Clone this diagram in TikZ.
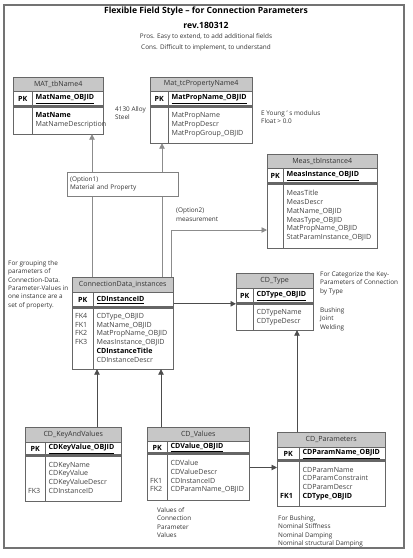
\documentclass[tikz,border=0pt]{standalone}
\usepackage{fontspec}
\setmainfont{Open Sans}
\usepackage{xcolor}
\usetikzlibrary{positioning,arrows.meta}
\newcommand{\tblfont}{\fontsize{7.1}{8.8}\selectfont}
\newcommand{\notefont}{\fontsize{6.4}{8.3}\selectfont}
\newcommand{\keyfld}[1]{{\color{black}\bfseries #1}}

\begin{document}
\begin{tikzpicture}[x=1pt,y=-1pt,
	thead/.style={draw=black!60, fill=black!22, anchor=north west, inner sep=0pt, font=\tblfont, text=black!80},
	tkey/.style={draw=black!60, anchor=north west, inner sep=0pt, font=\tblfont\bfseries, text=black,
		path picture={\draw[black!60] ([yshift=1.6pt]path picture bounding box.south west) -- ([yshift=1.6pt]path picture bounding box.south east);}},
	tcol/.style={draw=black!60, anchor=north west, inner xsep=3pt, inner ysep=0pt, align=left, font=\tblfont, text=black!75,
		execute at begin node=\strut, execute at end node=\strut},
	note/.style={anchor=north west, inner sep=0pt, align=left, font=\notefont, text=black!80},
	fk/.style={draw=black!70, line width=0.9pt, -{Triangle[length=5.5pt,width=5.5pt]}},
	opt/.style={draw=black!45, line width=0.9pt, -{Triangle[length=5.5pt,width=5.5pt]}}]
\useasboundingbox (0,0) rectangle (413,558);
\draw[black!55, line width=1.2pt] (4,5) rectangle (404,548);

\node[font=\fontsize{8.6}{10}\selectfont\bfseries] (ttl) at (206,11.5) {Flexible Field Style -- for Connection Parameters};
\node[font=\fontsize{8.6}{10}\selectfont\bfseries, below=-1pt of ttl] (rev) {rev.180312};
\node[font=\notefont, text=black!80, below=-2pt of rev] (pros) {Pros. Easy to extend, to add additional fields};
\node[font=\notefont, text=black!80, below=-2pt of pros] (cons) {Cons. Difficult to implement, to understand};

\node[thead, minimum width=90pt, minimum height=14pt] (math) at (13,77) {MAT\_tbName4};
\node[tkey, minimum width=19pt, minimum height=15pt] (matp) at (math.south west) {PK};
\node[tkey, minimum height=15pt, inner xsep=3pt, text width=65pt, align=left] (matk) at (matp.north east) {\underline{MatName\_OBJID}};
\node[tcol, minimum height=27pt, text width=13pt] (matl) at (matp.south west) {~\\~};
\node[tcol, minimum height=27pt, text width=65pt] (matb) at (matl.north east) {\keyfld{MatName}\\MatNameDescription};

\node[thead, minimum width=102pt, minimum height=14pt] (mph) at (150,77) {Mat\_tcPropertyName4};
\node[tkey, minimum width=18pt, minimum height=15pt] (mpp) at (mph.south west) {PK};
\node[tkey, minimum height=15pt, inner xsep=3pt, text width=78pt, align=left] (mpk) at (mpp.north east) {\underline{MatPropName\_OBJID}};
\node[tcol, minimum height=36pt, text width=12pt] (mpl) at (mpp.south west) {~\\~\\~};
\node[tcol, minimum height=36pt, text width=78pt] (mpb) at (mpl.north east) {MatPropName\\MatPropDescr\\MatPropGroup\_OBJID};

\node[thead, minimum width=110pt, minimum height=14pt] (meash) at (267,154) {Meas\_tbInstance4};
\node[tkey, minimum width=16pt, minimum height=15pt] (measp) at (meash.south west) {PK};
\node[tkey, minimum height=15pt, inner xsep=3pt, text width=88pt, align=left] (meask) at (measp.north east) {\underline{MeasInstance\_OBJID}};
\node[tcol, minimum height=64pt, text width=10pt] (measl) at (measp.south west) {~\\~\\~\\~\\~\\~};
\node[tcol, minimum height=64pt, text width=88pt] (measb) at (measl.north east) {MeasTitle\\MeasDescr\\MatName\_OBJID\\MeasType\_OBJID\\MatPropName\_OBJID\\StatParamInstance\_OBJID};

\node[thead, minimum width=101pt, minimum height=15pt] (cdih) at (72,277) {ConnectionData\_instances};
\node[tkey, minimum width=21pt, minimum height=15pt] (cdip) at (cdih.south west) {PK};
\node[tkey, minimum height=15pt, inner xsep=3pt, text width=74pt, align=left] (cdik) at (cdip.north east) {\underline{CDInstanceID}};
\node[tcol, minimum height=61pt, text width=15pt] (cdil) at (cdip.south west) {FK4\\FK1\\FK2\\FK3\\~\\~};
\node[tcol, minimum height=61pt, text width=74pt] (cdib) at (cdil.north east) {CDType\_OBJID\\MatName\_OBJID\\MatPropName\_OBJID\\MeasInstance\_OBJID\\\keyfld{CDInstanceTitle}\\CDInstanceDescr};

\node[thead, minimum width=77pt, minimum height=15pt] (cdth) at (236,273) {CD\_Type};
\node[tkey, minimum width=17pt, minimum height=15pt] (cdtp) at (cdth.south west) {PK};
\node[tkey, minimum height=15pt, inner xsep=3pt, text width=54pt, align=left] (cdtk) at (cdtp.north east) {\underline{CDType\_OBJID}};
\node[tcol, minimum height=26pt, text width=11pt] (cdtl) at (cdtp.south west) {~\\~};
\node[tcol, minimum height=26pt, text width=54pt] (cdtb) at (cdtl.north east) {CDTypeName\\CDTypeDescr};

\node[thead, minimum width=96pt, minimum height=15pt] (kvh) at (25,427) {CD\_KeyAndValues};
\node[tkey, minimum width=20pt, minimum height=13pt] (kvp) at (kvh.south west) {PK};
\node[tkey, minimum height=13pt, inner xsep=3pt, text width=70pt, align=left] (kvk) at (kvp.north east) {\underline{CDKeyValue\_OBJID}};
\node[tcol, minimum height=45pt, text width=14pt] (kvl) at (kvp.south west) {~\\~\\~\\FK3};
\node[tcol, minimum height=45pt, text width=70pt] (kvb) at (kvl.north east) {CDKeyName\\CDKeyValue\\CDKeyValueDescr\\CDInstanceID};

\node[thead, minimum width=102pt, minimum height=14pt] (cdvh) at (147,427) {CD\_Values};
\node[tkey, minimum width=20pt, minimum height=12pt] (cdvp) at (cdvh.south west) {PK};
\node[tkey, minimum height=12pt, inner xsep=3pt, text width=76pt, align=left] (cdvk) at (cdvp.north east) {\underline{CDValue\_OBJID}};
\node[tcol, minimum height=46pt, text width=14pt] (cdvl) at (cdvp.south west) {~\\~\\FK1\\FK2};
\node[tcol, minimum height=46pt, text width=76pt] (cdvb) at (cdvl.north east) {CDValue\\CDValueDescr\\CDInstanceID\\CDParamName\_OBJID};

\node[thead, minimum width=108pt, minimum height=15pt] (cdparh) at (277,432) {CD\_Parameters};
\node[tkey, minimum width=22pt, minimum height=13pt] (cdparp) at (cdparh.south west) {PK};
\node[tkey, minimum height=13pt, inner xsep=3pt, text width=80pt, align=left] (cdpark) at (cdparp.north east) {\underline{CDParamName\_OBJID}};
\node[tcol, minimum height=45pt, text width=16pt] (cdparl) at (cdparp.south west) {~\\~\\~\\\keyfld{FK1}};
\node[tcol, minimum height=45pt, text width=80pt] (cdparb) at (cdparl.north east) {CDParamName\\CDParamConstraint\\CDParamDescr\\\keyfld{CDType\_OBJID}};

\coordinate (o1) at ([xshift=20pt]cdih.north west);
\coordinate (o2) at ([xshift=90pt]cdih.north west);
\coordinate (o3) at ([xshift=99pt]cdih.north west);
\draw[opt] (o1) -- (o1 |- matb.south);
\draw[opt] (o2) -- (o2 |- mpb.south);
\draw[opt] (o3) |- ([yshift=-14pt]measl.west);
\node[note, draw=black!50, fill=white, inner xsep=3pt, minimum height=24pt, text width=105pt] (opt1) at (67,172) {(Option1)\\Material and Property};
\node[note] (opt2) at (176,208) {(Option2)\\measurement};

\draw[fk] (cdik.east |- cdtp.south west) -- (cdtp.south west);
\coordinate (p1) at ([xshift=20pt]cdparh.north west);
\draw[fk] (p1) -- (p1 |- cdtl.south);
\coordinate (k1) at ([xshift=72pt]kvh.north west);
\draw[fk] (k1) -- (k1 |- cdil.south);
\coordinate (v1) at ([xshift=14pt]cdvh.north west);
\draw[fk] (v1) -- (v1 |- cdil.south);
\coordinate (v2) at ([yshift=16pt]cdparl.west);
\draw[fk] (cdvb.east |- v2) -- (v2);

\node[note] (alloy) at (115,106.5) {4130 Alloy\\Steel};
\node[note] (young) at (261,110.5) {E Young ' s modulus\\Float > 0.0};
\node[note] (grp) at (8,260.5) {For grouping the\\parameters of\\Connection-Data.\\Parameter-Values in\\one instance are a\\set of property.};
\node[note] (categ) at (320,271.5) {For Categorize the Key-\\Parameters of Connection\\by Type};
\node[note] (kinds) at (320,307.5) {Bushing\\Joint\\Welding};
\node[note] (vals) at (157,507.5) {Values of\\Connection\\Parameter\\Values};
\node[note] (bush) at (278,515.5) {For Bushing,\\Nominal Stiffness\\Nominal Damping\\Nominal structural Damping};
\end{tikzpicture}
\end{document}
